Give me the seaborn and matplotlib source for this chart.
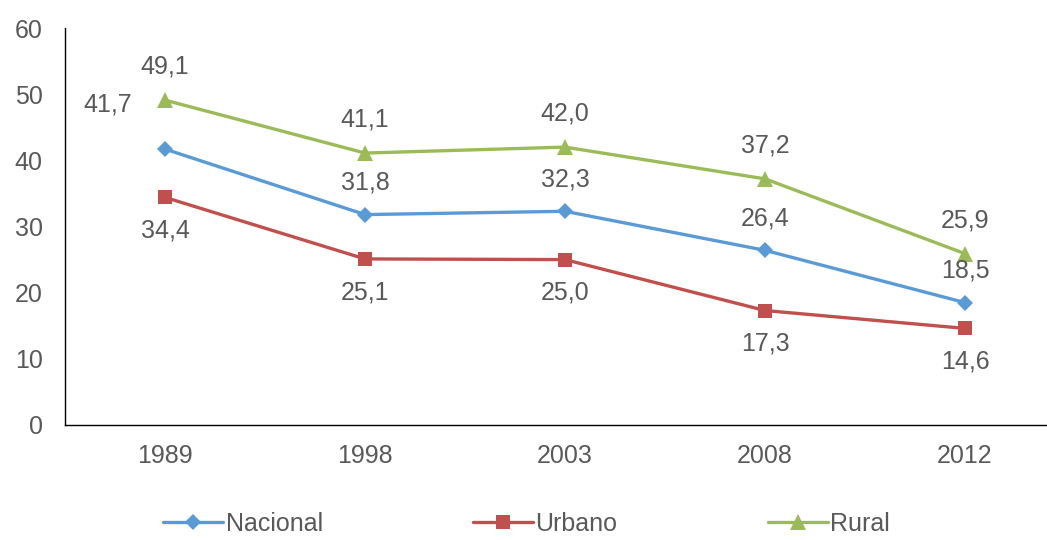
import matplotlib
matplotlib.use("Agg")
import matplotlib.pyplot as plt
import seaborn as sns
import pandas as pd

years = ["1989", "1998", "2003", "2008", "2012"]
nacional = [41.7, 31.8, 32.3, 26.4, 18.5]
urbano = [34.4, 25.1, 25.0, 17.3, 14.6]
rural = [49.1, 41.1, 42.0, 37.2, 25.9]
series_names = ["Nacional", "Urbano", "Rural"]
yticks = [0, 10, 20, 30, 40, 50, 60]

sns.set_style("white")
plt.rcParams["font.family"] = ["Liberation Sans", "DejaVu Sans"]

colors = {"Nacional": "#5B9BD5", "Urbano": "#C0504D", "Rural": "#9BBB59"}
markers = {"Nacional": "D", "Urbano": "s", "Rural": "^"}
msize = {"Nacional": 8, "Urbano": 10, "Rural": 11}

df = pd.DataFrame({
    "year": years * 3,
    "x": list(range(len(years))) * 3,
    "value": nacional + urbano + rural,
    "serie": [s for s in series_names for _ in years],
})

fig = plt.figure(figsize=(10.47, 5.4), dpi=100)
ax = fig.add_axes([65 / 1047, 115 / 540, 982 / 1047, 397 / 540])

for s in series_names:
    sub = df[df.serie == s]
    sns.lineplot(data=sub, x="x", y="value", ax=ax, color=colors[s],
                 marker=markers[s], markersize=msize[s], markeredgewidth=0,
                 linewidth=2.4, label=s)

txt_color = "#595959"
fs = 18
for i, v in enumerate(rural):
    ax.annotate(f"{v:.1f}".replace(".", ","), (i, v), xytext=(0, 24),
                textcoords="offset points", ha="center", va="center",
                fontsize=fs, color=txt_color)
for i, v in enumerate(urbano):
    ax.annotate(f"{v:.1f}".replace(".", ","), (i, v), xytext=(0, -24),
                textcoords="offset points", ha="center", va="center",
                fontsize=fs, color=txt_color)
for i, v in enumerate(nacional):
    off = (-41, 32) if i == 0 else (0, 23)
    ax.annotate(f"{v:.1f}".replace(".", ","), (i, v), xytext=off,
                textcoords="offset points", ha="center", va="center",
                fontsize=fs, color=txt_color)

ax.set_xlim(-0.5, -0.5 + 982 / 200)
ax.set_ylim(0, 60)
ax.set_yticks(yticks)
ax.set_xticks(range(len(years)))
ax.set_xticklabels(years)
ax.set_xlabel("")
ax.set_ylabel("")
ax.tick_params(axis="both", labelsize=fs, colors=txt_color, length=0)
ax.tick_params(axis="x", pad=14)
ax.tick_params(axis="y", pad=16)
for side in ["top", "right"]:
    ax.spines[side].set_visible(False)
for side in ["left", "bottom"]:
    ax.spines[side].set_color("black")
    ax.spines[side].set_linewidth(1.0)

handles, labels = ax.get_legend_handles_labels()
ax.get_legend().remove()
leg = fig.legend(handles, labels, loc="center", bbox_to_anchor=(0.503, 0.03),
                 ncol=3, frameon=False, fontsize=fs, handlelength=2.4,
                 handletextpad=0.1, columnspacing=6.0)
for t in leg.get_texts():
    t.set_color(txt_color)

fig.savefig("out.png", dpi=100)
